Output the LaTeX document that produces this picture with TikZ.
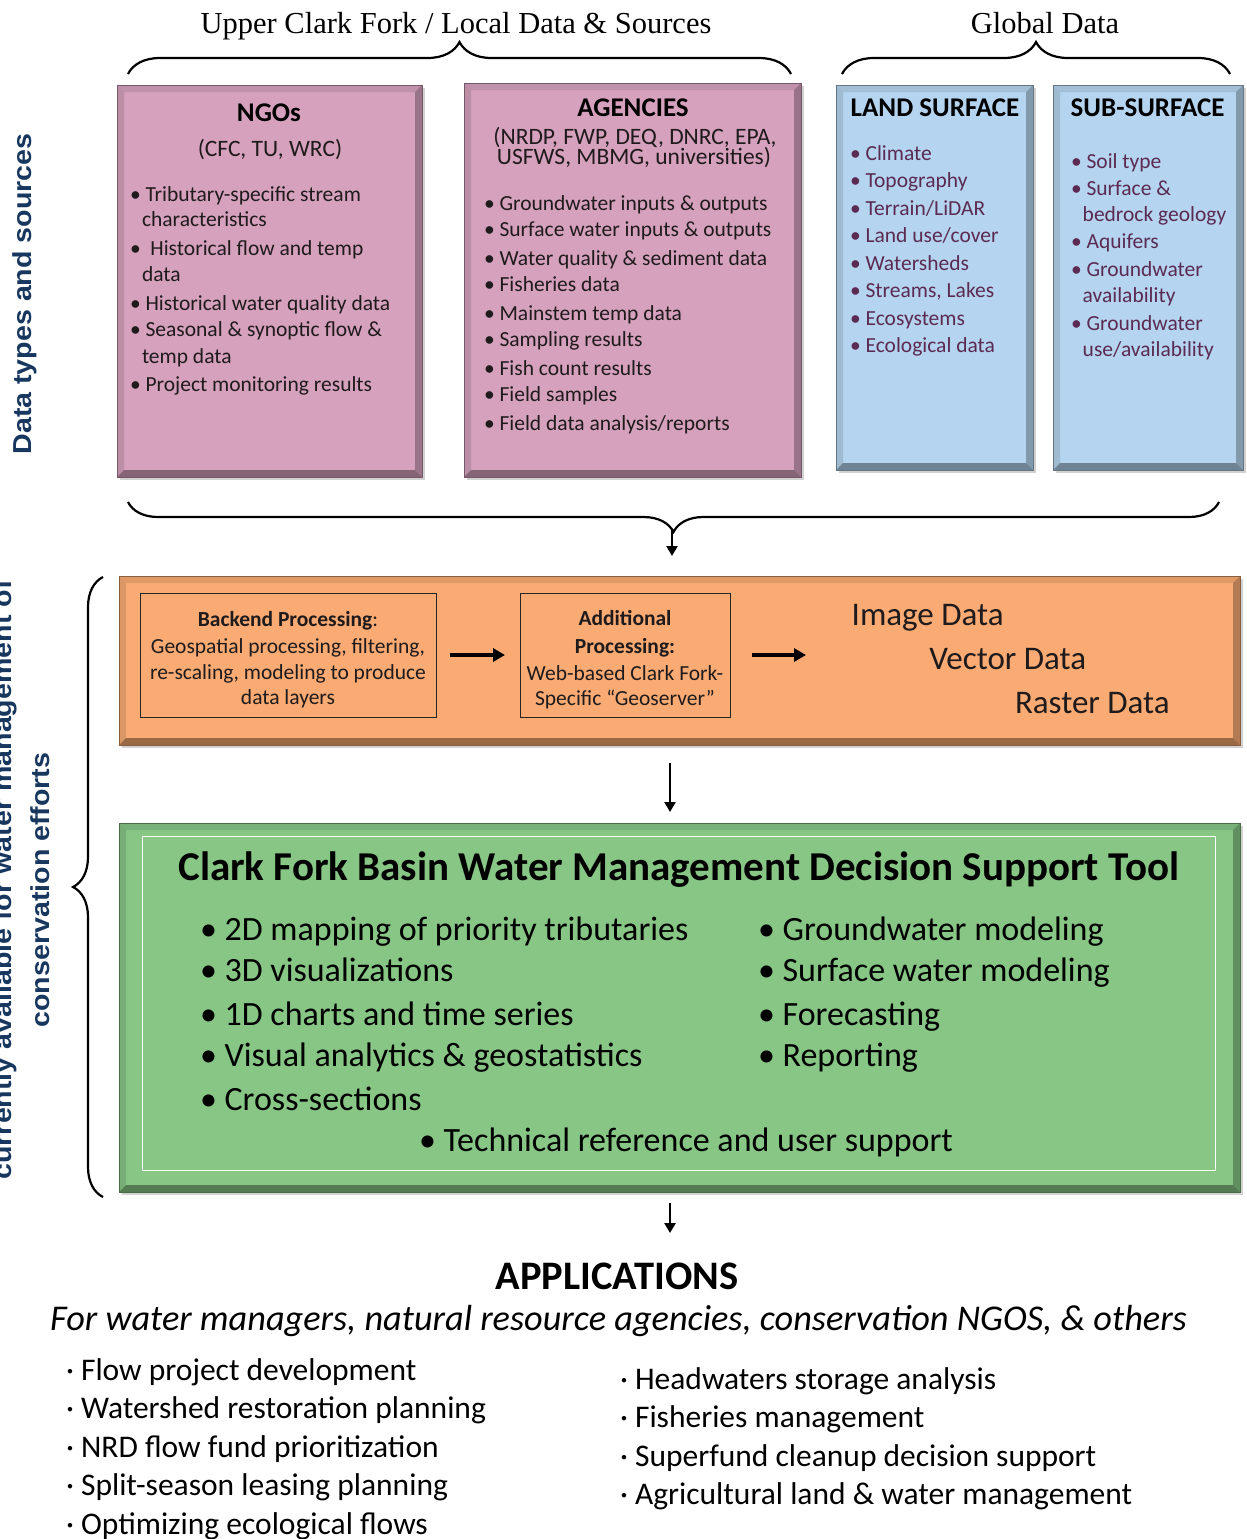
\documentclass[tikz,border=0pt]{standalone}
\usepackage{fontspec}
\setmainfont{Carlito}
\newfontfamily\hdrfont{Liberation Serif}
\newfontfamily\lblfont[FakeStretch=1.1]{Liberation Sans}
\usetikzlibrary{decorations.pathreplacing,shadows,arrows.meta}
\definecolor{pinkc}{HTML}{D5A1BD}
\definecolor{bluec}{HTML}{B5D4EF}
\definecolor{orangec}{HTML}{F9AB73}
\definecolor{greenc}{HTML}{87C685}
\definecolor{lblblue}{HTML}{17375E}
\definecolor{purptext}{HTML}{5B2A52}
\definecolor{darktext}{HTML}{1F1A1C}
\begin{document}
\begin{tikzpicture}[x=1pt,y=-1pt,
  every node/.style={inner sep=0pt,outer sep=0pt},
  bevel/.style={fill=#1, draw=#1!55!black, line width=0.8pt,
    drop shadow={shadow xshift=2.5pt, shadow yshift=-3pt, opacity=0.35},
    path picture={
      \fill[#1!90!black] (path picture bounding box.north west) -- (path picture bounding box.north east)
        -- ([shift={(-7pt,-7pt)}]path picture bounding box.north east) -- ([shift={(7pt,-7pt)}]path picture bounding box.north west) -- cycle;
      \fill[#1!88!black] (path picture bounding box.north west) -- (path picture bounding box.south west)
        -- ([shift={(7pt,7pt)}]path picture bounding box.south west) -- ([shift={(7pt,-7pt)}]path picture bounding box.north west) -- cycle;
      \fill[#1!72!black] (path picture bounding box.north east) -- (path picture bounding box.south east)
        -- ([shift={(-7pt,7pt)}]path picture bounding box.south east) -- ([shift={(-7pt,-7pt)}]path picture bounding box.north east) -- cycle;
      \fill[#1!62!black] (path picture bounding box.south west) -- (path picture bounding box.south east)
        -- ([shift={(-7pt,7pt)}]path picture bounding box.south east) -- ([shift={(7pt,7pt)}]path picture bounding box.south west) -- cycle;
    }},
  innerbox/.style={draw=black!85, line width=0.8pt},
  hdr/.style={font=\hdrfont\fontsize{30.5}{34}\selectfont, anchor=base},
  btitle/.style={font=\bfseries\fontsize{27}{30}\selectfont, anchor=base},
  ptext/.style={font=\fontsize{23.5}{26}\selectfont, anchor=base, text=darktext},
  itm/.style={font=\fontsize{21.5}{24}\selectfont, anchor=base west, text=darktext},
  bitm/.style={itm, text=purptext},
  ctext/.style={font=\fontsize{21.5}{24}\selectfont, anchor=base, text=darktext},
  datalbl/.style={font=\fontsize{33}{36}\selectfont, anchor=base west, text=darktext},
  gtitle/.style={font=\bfseries\fontsize{41}{44}\selectfont, anchor=base},
  gitm/.style={font=\fontsize{34}{38}\selectfont, anchor=base west},
  apptitle/.style={font=\bfseries\fontsize{40.5}{44}\selectfont, anchor=base},
  appsub/.style={font=\itshape\fontsize{36.3}{40}\selectfont, anchor=base},
  appitm/.style={font=\fontsize{31.5}{34}\selectfont, anchor=base west},
  lbl/.style={font=\lblfont\bfseries\fontsize{26}{30}\selectfont, text=lblblue, rotate=90, anchor=base},
  brc/.style={decorate, decoration={brace, amplitude=#1}, line width=2.2pt},
  harr/.style={line width=3.5pt, -{Triangle[length=12pt,width=13pt]}},
  varr/.style={line width=2.8pt, -{Triangle[length=10pt,width=11pt]}}
]
\useasboundingbox (0,0) rectangle (1247,1539);
\clip (0,0) rectangle (1247,1539);
\fill[white] (0,0) rectangle (1247,1539);

% ---------- headers and top braces
\node[hdr] (hlocal) at (456,33.3) {Upper Clark Fork / Local Data \& Sources};
\node[hdr] (hglobal) at (1045,33.3) {Global Data};
\coordinate (b1a) at (128,74); \coordinate (b1b) at (791,74);
\coordinate (b2a) at (842,74); \coordinate (b2b) at (1230,74);
\draw[brc=32] (b1a) -- (b1b);
\draw[brc=32] (b2a) -- (b2b);

% ---------- source boxes
\node[bevel=pinkc, minimum width=305, minimum height=392] (ngo) at (269.5,281) {};
\node[bevel=pinkc, minimum width=337, minimum height=394] (agn) at (632.5,280) {};
\node[bevel=bluec, minimum width=197, minimum height=385] (land) at (934.5,277.5) {};
\node[bevel=bluec, minimum width=190, minimum height=385] (sub) at (1148,277.5) {};

% NGO text
\node[btitle] (ngoT) at (269,121.7) {NGOs};
\node[ptext] (ngoP) at (270,156.7) {(CFC, TU, WRC)};
\node[itm] (n1) at (130,201.7) {• Tributary-specific stream};
\node[itm] (n2) at (142,226.7) {characteristics};
\node[itm] (n3) at (130,255) {•\ \ Historical flow and temp};
\node[itm] (n4) at (142,281.7) {data};
\node[itm] (n5) at (130,310) {• Historical water quality data};
\node[itm] (n6) at (130,336.7) {• Seasonal \& synoptic flow \&};
\node[itm] (n7) at (142,363) {temp data};
\node[itm] (n8) at (130,391.7) {• Project monitoring results};

% Agencies text
\node[btitle] (agnT) at (633,116.7) {AGENCIES};
\node[ptext] (agnP1) at (635,144) {(NRDP, FWP, DEQ, DNRC, EPA,};
\node[ptext] (agnP2) at (634,164.5) {USFWS, MBMG, universities)};
\node[itm] (a1) at (484,210) {• Groundwater inputs \& outputs};
\node[itm] (a2) at (484,236.7) {• Surface water inputs \& outputs};
\node[itm] (a3) at (484,265) {• Water quality \& sediment data};
\node[itm] (a4) at (484,291.7) {• Fisheries data};
\node[itm] (a5) at (484,320) {• Mainstem temp data};
\node[itm] (a6) at (484,346.7) {• Sampling results};
\node[itm] (a7) at (484,375) {• Fish count results};
\node[itm] (a8) at (484,401.7) {• Field samples};
\node[itm] (a9) at (484,430) {• Field data analysis/reports};

% Land surface
\node[btitle, anchor=base west] (landT) at (850.7,116.7) {LAND SURFACE};
\node[bitm] (l1) at (850,160) {• Climate};
\node[bitm] (l2) at (850,187.3) {• Topography};
\node[bitm] (l3) at (850,215) {• Terrain/LiDAR};
\node[bitm] (l4) at (850,242.7) {• Land use/cover};
\node[bitm] (l5) at (850,270) {• Watersheds};
\node[bitm] (l6) at (850,297.3) {• Streams, Lakes};
\node[bitm] (l7) at (850,325) {• Ecosystems};
\node[bitm] (l8) at (850,352.7) {• Ecological data};

% Sub-surface
\node[btitle, anchor=base west] (subT) at (1070.7,116.7) {SUB-SURFACE};
\node[bitm] (s1) at (1071,168.3) {• Soil type};
\node[bitm] (s2) at (1071,195) {• Surface \&};
\node[bitm] (s3) at (1082.7,221.7) {bedrock geology};
\node[bitm] (s4) at (1071,248.3) {• Aquifers};
\node[bitm] (s5) at (1071,276) {• Groundwater};
\node[bitm] (s6) at (1082.7,302.7) {availability};
\node[bitm] (s7) at (1071,330) {• Groundwater};
\node[bitm] (s8) at (1082.7,356.7) {use/availability};

% ---------- processing band
\node[bevel=orangec, minimum width=1121, minimum height=169] (orange) at (679.5,660.5) {};
\node[innerbox, minimum width=296, minimum height=124] (backend) at (288,655) {};
\node[innerbox, minimum width=210, minimum height=124] (addl) at (625,655) {};
\node[ctext] (bk1) at (288,626) {\textbf{Backend Processing}:};
\node[ctext] (bk2) at (288,653) {Geospatial processing, filtering,};
\node[ctext] (bk3) at (288,679) {re-scaling, modeling to produce};
\node[ctext] (bk4) at (288,704) {data layers};
\node[ctext] (ad1) at (625,625) {\textbf{Additional}};
\node[ctext] (ad2) at (625,653.3) {\textbf{Processing:}};
\node[ctext] (ad3) at (625,680) {Web-based Clark Fork-};
\node[ctext] (ad4) at (625,705) {Specific “Geoserver”};
\node[datalbl] (img) at (851.7,625) {Image Data};
\node[datalbl] (vec) at (929.3,669.3) {Vector Data};
\node[datalbl] (ras) at (1015,713.3) {Raster Data};
\coordinate (dataIn) at (806,655);
\draw[harr, shorten <=14pt, shorten >=15pt] (backend) -- (addl);
\draw[harr, shorten <=22pt] (addl) -- (dataIn);

% bottom brace of sources and arrow
\coordinate (b3a) at (1219,502); \coordinate (b3b) at (128,502);
\draw[brc=30] (b3a) -- (b3b);
\coordinate (btip) at (672,530);
\draw[varr, line width=2.2pt, shorten >=20pt] (btip) -- (orange.north -| btip);

% ---------- tool box
\node[bevel=greenc, minimum width=1121, minimum height=369] (green) at (679.5,1007.5) {};
\node[draw=white, line width=1pt, minimum width=1073, minimum height=334] (inner) at (679,1003) {};
\coordinate (axis) at (670,0);
\draw[varr, shorten <=18pt, shorten >=11pt] (orange.south -| axis) -- (green.north -| axis);

\node[gtitle] (gT) at (678.8,880) {Clark Fork Basin Water Management Decision Support Tool};
\node[gitm] (g1) at (200,940) {• 2D mapping of priority tributaries};
\node[gitm] (g2) at (200,981.7) {• 3D visualizations};
\node[gitm] (g3) at (200,1025) {• 1D charts and time series};
\node[gitm] (g4) at (200,1066.7) {• Visual analytics \& geostatistics};
\node[gitm] (g5) at (200,1110) {• Cross-sections};
\node[gitm] (g6) at (758,940) {• Groundwater modeling};
\node[gitm] (g7) at (758,981.7) {• Surface water modeling};
\node[gitm] (g8) at (758,1025) {• Forecasting};
\node[gitm] (g9) at (758,1066.7) {• Reporting};
\node[gitm] (g10) at (419,1151.7) {• Technical reference and user support};

% left brace and labels
\coordinate (b4a) at (103,1197); \coordinate (b4b) at (103,577);
\draw[brc=30] (b4a) -- (b4b);
\node[lbl] (lblA) at (31.5,294) {Data types and sources};
\node[lbl] (lblB) at (12,880) {currently available for water management of};
\node[lbl] (lblC) at (49,890) {conservation efforts};

% ---------- applications
\coordinate (appIn) at (670,1233);
\draw[varr, shorten <=11pt] (green.south -| axis) -- (appIn);
\node[apptitle] (appT) at (617,1289) {APPLICATIONS};
\node[appsub] (appS) at (618.5,1330) {For water managers, natural resource agencies, conservation NGOS, \& others};
\node[appitm] (p1) at (66,1380) {· Flow project development};
\node[appitm] (p2) at (66,1418.5) {· Watershed restoration planning};
\node[appitm] (p3) at (66,1457) {· NRD flow fund prioritization};
\node[appitm] (p4) at (66,1495.5) {· Split-season leasing planning};
\node[appitm] (p5) at (66,1534) {· Optimizing ecological flows};
\node[appitm] (q1) at (620,1389) {· Headwaters storage analysis};
\node[appitm] (q2) at (620,1427.5) {· Fisheries management};
\node[appitm] (q3) at (620,1466) {· Superfund cleanup decision support};
\node[appitm] (q4) at (620,1504.5) {· Agricultural land \& water management};
\end{tikzpicture}
\end{document}
